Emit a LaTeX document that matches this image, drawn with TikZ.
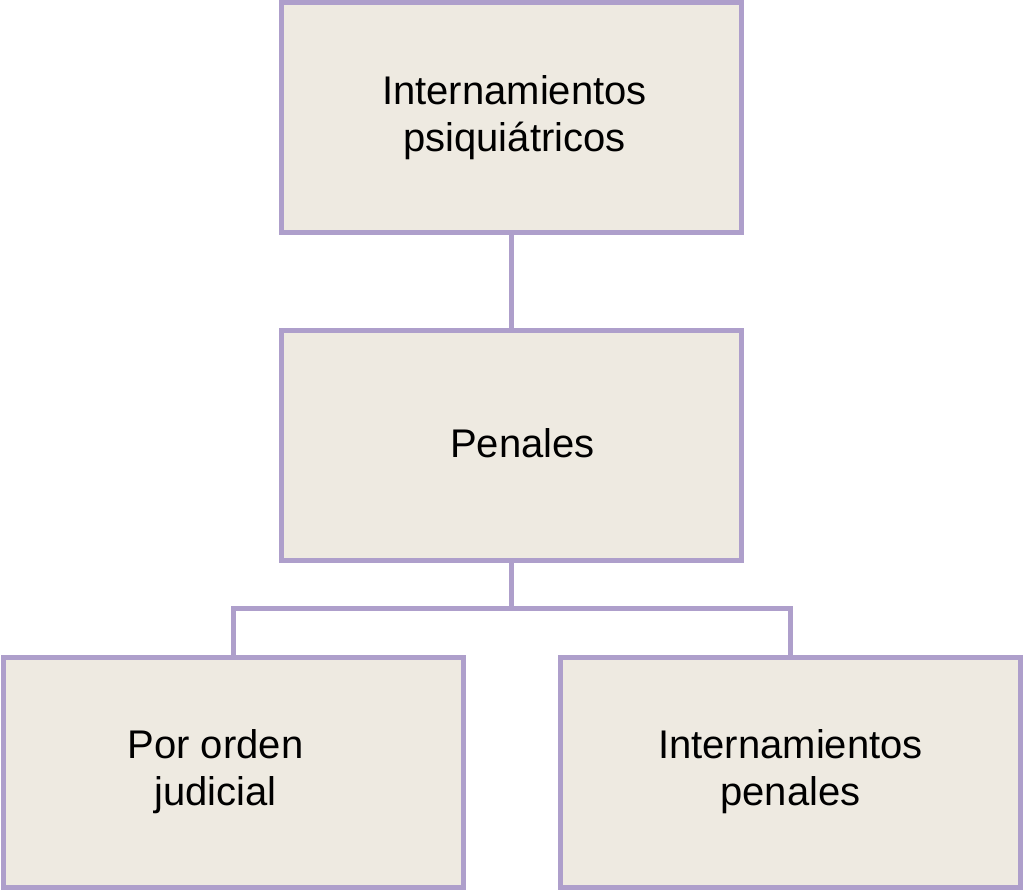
\documentclass[tikz,border=0pt]{standalone}
\usepackage{fontspec}
\setmainfont{Liberation Sans}
\definecolor{boxline}{HTML}{AE9FCB}
\definecolor{boxfill}{HTML}{EEEAE1}
\begin{document}
\begin{tikzpicture}[x=1pt,y=-1pt,
  box/.style={draw=boxline,fill=boxfill,line width=5pt,minimum width=460pt,minimum height=230pt,inner sep=0pt},
  label/.style={inner sep=0pt,align=center,font=\fontsize{40}{47}\selectfont},
  conn/.style={draw=boxline,line width=5pt}]
\useasboundingbox (0,0) rectangle (1024,890);
\node[box] (top) at (511.5,118) {};
\node[box] (mid) at (511.5,445) {};
\node[box] (left) at (233.5,772) {};
\node[box] (right) at (790.5,772) {};
\node[label] (topt) at ([xshift=3pt]top.center) {Internamientos\\psiqui\'atricos};
\node[label] (midt) at ([xshift=11pt,yshift=2pt]mid.center) {Penales};
\node[label] (leftt) at ([xshift=-18pt]left.center) {Por orden\\judicial};
\node[label] (rightt) at (right.center) {Internamientos\\penales};
\coordinate (j) at (511.5,608);
\draw[conn] (top.south) -- (mid.north);
\draw[conn] (mid.south) -- (j);
\draw[conn] (left.north) |- (j) -| (right.north);
\end{tikzpicture}
\end{document}
